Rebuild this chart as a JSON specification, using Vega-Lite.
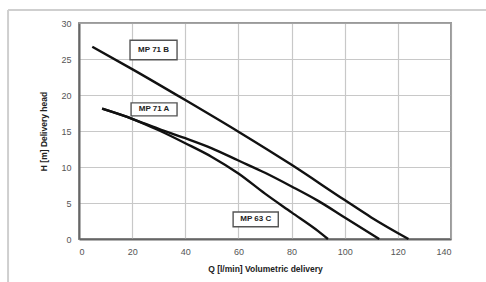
{
  "$schema": "https://vega.github.io/schema/vega-lite/v6.json",
  "width": 372,
  "height": 216,
  "autosize": {"type": "none"},
  "padding": {"left": 79, "top": 23, "right": 35, "bottom": 43},
  "background": "white",
  "config": {
    "font": "Liberation Sans",
    "view": {"stroke": "#9a9a9a", "strokeWidth": 2},
    "axis": {
      "titleFont": "Liberation Sans", "titleFontSize": 8.5, "titleFontWeight": "bold", "titleColor": "#222",
      "labelFontSize": 9, "labelColor": "#555", "labelPadding": 8,
      "domainColor": "#666", "domainWidth": 2,
      "ticks": false, "grid": true,
      "gridColor": "#c8c8c8", "gridWidth": 1.2, "gridOpacity": 1
    }
  },
  "datasets": {
    "curves": [
      {"model": "MP 71 B", "q": 5, "h": 26.7},
      {"model": "MP 71 B", "q": 20, "h": 23.6},
      {"model": "MP 71 B", "q": 40, "h": 19.3},
      {"model": "MP 71 B", "q": 60, "h": 14.9},
      {"model": "MP 71 B", "q": 80, "h": 10.3},
      {"model": "MP 71 B", "q": 100, "h": 5.4},
      {"model": "MP 71 B", "q": 110, "h": 3.0},
      {"model": "MP 71 B", "q": 124, "h": 0},
      {"model": "MP 71 A", "q": 8.7, "h": 18.1},
      {"model": "MP 71 A", "q": 20, "h": 16.7},
      {"model": "MP 71 A", "q": 30, "h": 15.3},
      {"model": "MP 71 A", "q": 40, "h": 14.0},
      {"model": "MP 71 A", "q": 50, "h": 12.6},
      {"model": "MP 71 A", "q": 60, "h": 10.9},
      {"model": "MP 71 A", "q": 70, "h": 9.2},
      {"model": "MP 71 A", "q": 80, "h": 7.3},
      {"model": "MP 71 A", "q": 90, "h": 5.3},
      {"model": "MP 71 A", "q": 100, "h": 3.0},
      {"model": "MP 71 A", "q": 113, "h": 0},
      {"model": "MP 63 C", "q": 8.7, "h": 18.1},
      {"model": "MP 63 C", "q": 20, "h": 16.7},
      {"model": "MP 63 C", "q": 30, "h": 15.1},
      {"model": "MP 63 C", "q": 40, "h": 13.3},
      {"model": "MP 63 C", "q": 50, "h": 11.4},
      {"model": "MP 63 C", "q": 60, "h": 9.1},
      {"model": "MP 63 C", "q": 70, "h": 6.3},
      {"model": "MP 63 C", "q": 80, "h": 3.7},
      {"model": "MP 63 C", "q": 90, "h": 1.1},
      {"model": "MP 63 C", "q": 93.7, "h": 0}
    ],
    "labels": [
      {"model": "MP 71 B", "q1": 19.2, "q2": 36.9, "h1": 24.9, "h2": 27.6, "qc": 28.05, "hc": 26.25},
      {"model": "MP 71 A", "q1": 19.6, "q2": 36.9, "h1": 17.1, "h2": 18.9, "qc": 28.25, "hc": 18.0},
      {"model": "MP 63 C", "q1": 58.0, "q2": 75.0, "h1": 1.7, "h2": 3.75, "qc": 66.5, "hc": 2.72}
    ],
    "frame": [
      {"q": -26.7, "q2": 160, "h": 31.8, "h2": 31.8},
      {"q": -26.7, "q2": -26.7, "h": 31.8, "h2": -7}
    ],
    "border": [
      {"q": 0, "q2": 140, "h": 30, "h2": 30},
      {"q": 140, "q2": 140, "h": 0, "h2": 30}
    ]
  },
  "encoding": {
    "x": {
      "type": "quantitative",
      "scale": {"domain": [0, 140], "nice": false},
      "axis": {"values": [0, 20, 40, 60, 80, 100, 120, 140], "title": "Q [l/min] Volumetric delivery", "titlePadding": 8, "labelOverlap": false, "grid": true}
    },
    "y": {
      "type": "quantitative",
      "scale": {"domain": [0, 30], "nice": false},
      "axis": {"values": [0, 5, 10, 15, 20, 25, 30], "title": "H [m] Delivery head", "titlePadding": 12, "labelOverlap": false, "grid": true}
    }
  },
  "layer": [
    {
      "data": {"name": "frame"},
      "mark": {"type": "rule", "color": "#cfcfcf", "strokeWidth": 2, "clip": false},
      "encoding": {
        "x": {"field": "q"},
        "x2": {"field": "q2"},
        "y": {"field": "h"},
        "y2": {"field": "h2"}
      }
    },
    {
      "data": {"name": "border"},
      "mark": {"type": "rule", "color": "#9a9a9a", "strokeWidth": 1.5},
      "encoding": {
        "x": {"field": "q"},
        "x2": {"field": "q2"},
        "y": {"field": "h"},
        "y2": {"field": "h2"}
      }
    },
    {
      "data": {"name": "curves"},
      "mark": {"type": "line", "color": "#111", "strokeWidth": 2.4, "interpolate": "monotone"},
      "encoding": {
        "x": {"field": "q"},
        "y": {"field": "h"},
        "detail": {"field": "model"}
      }
    },
    {
      "data": {"name": "labels"},
      "mark": {"type": "rect", "fill": "white", "stroke": "#555", "strokeWidth": 1.4},
      "encoding": {
        "x": {"field": "q1"},
        "x2": {"field": "q2"},
        "y": {"field": "h1"},
        "y2": {"field": "h2"}
      }
    },
    {
      "data": {"name": "labels"},
      "mark": {"type": "text", "fontSize": 8, "fontWeight": "bold", "color": "#222", "font": "Liberation Sans"},
      "encoding": {
        "x": {"field": "qc"},
        "y": {"field": "hc"},
        "text": {"field": "model"}
      }
    }
  ]
}
